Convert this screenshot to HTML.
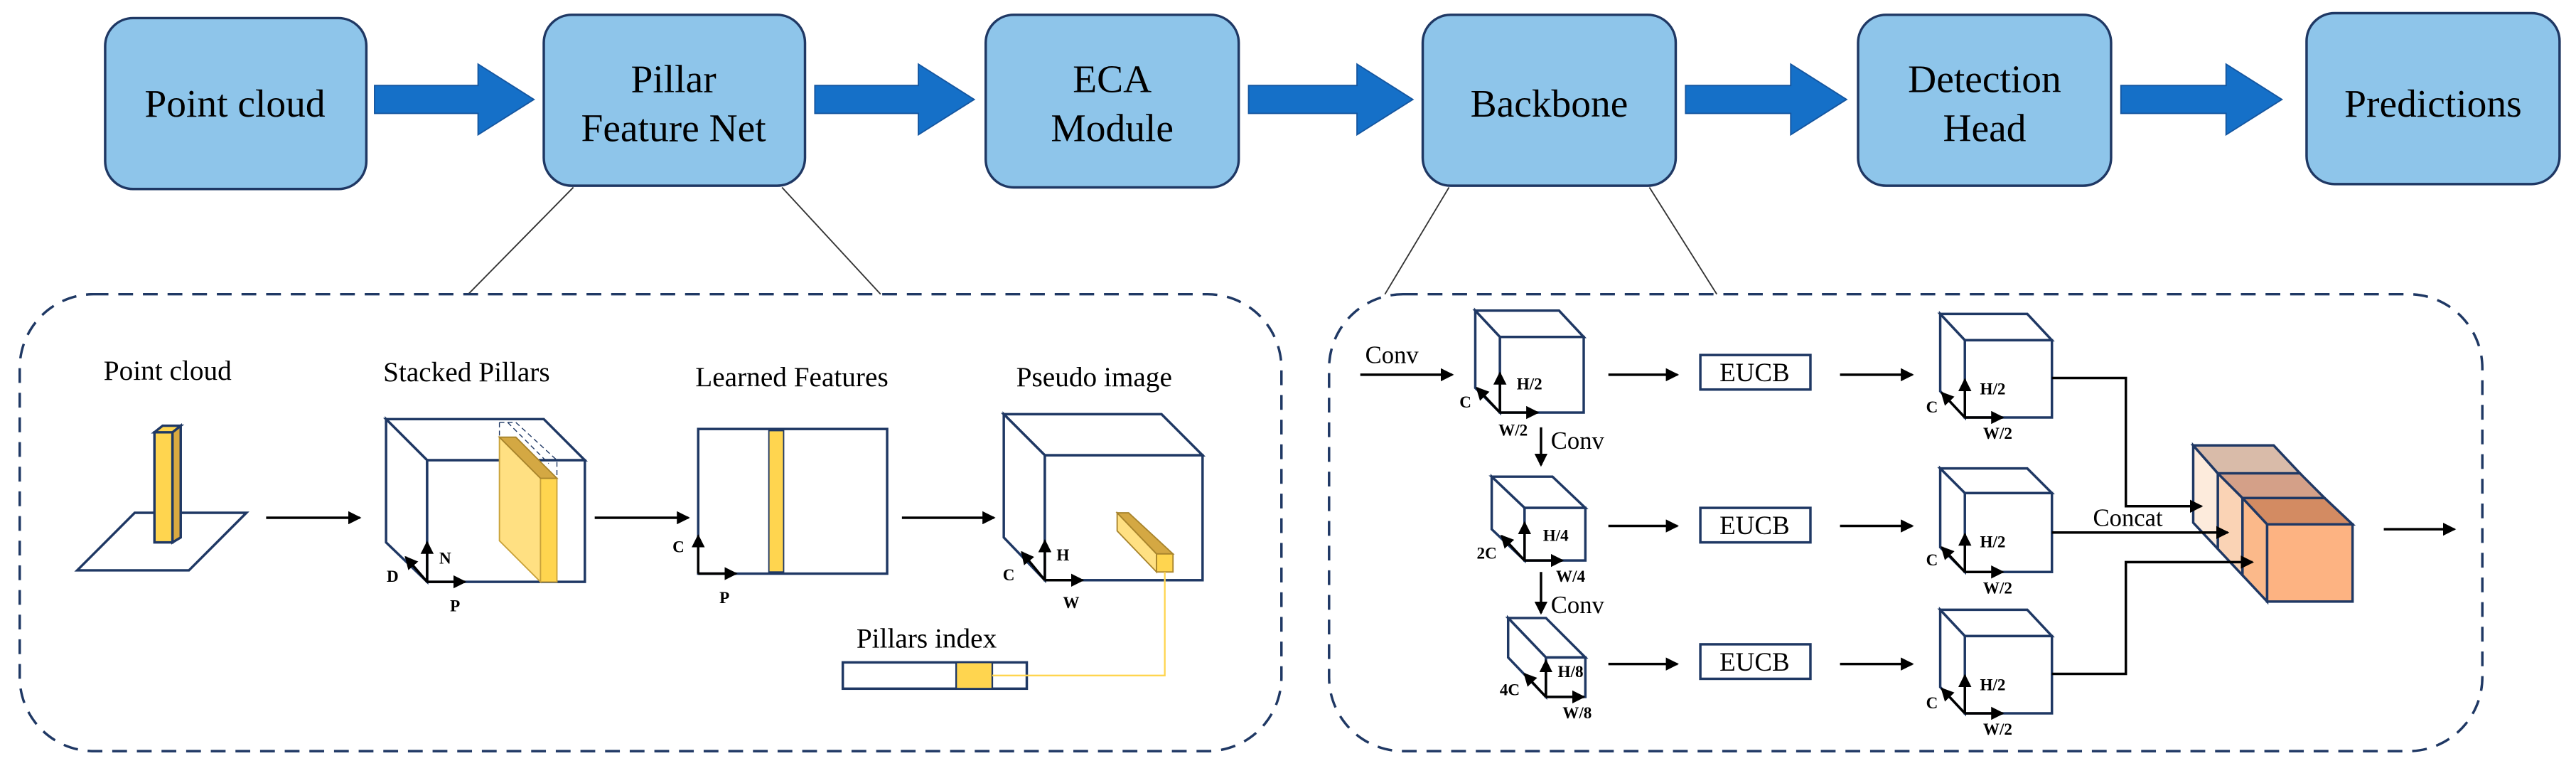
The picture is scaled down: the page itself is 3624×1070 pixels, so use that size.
<!DOCTYPE html>
<html><head><meta charset="utf-8"><style>html,body{margin:0;padding:0;background:#fff}svg{display:block}text{font-family:"Liberation Serif","DejaVu Serif","Times New Roman",serif !important}</style></head><body>
<svg width="3624" height="1070" viewBox="0 0 1568 463" preserveAspectRatio="none" xmlns="http://www.w3.org/2000/svg" style="font-family:'Liberation Serif','DejaVu Serif',serif">
<defs>
<marker id="ah" markerWidth="8" markerHeight="8" refX="7" refY="4" orient="auto" markerUnits="userSpaceOnUse"><path d="M0,0 L8,4 L0,8 Z" fill="#000"/></marker>
</defs>
<g stroke="#1F3864" stroke-width="1.5" fill="#8EC5EA">
<rect x="64" y="11" width="159" height="104" rx="17"/>
<rect x="331" y="9" width="159" height="104" rx="17"/>
<rect x="600" y="9" width="154" height="105" rx="17"/>
<rect x="866" y="9" width="154" height="104" rx="17"/>
<rect x="1131" y="9" width="154" height="104" rx="17"/>
<rect x="1404" y="8" width="154" height="104" rx="17"/>
</g>
<g fill="#1570C8" stroke="#1556A0" stroke-width="0.8">
<path d="M228,52 H291 V39 L325,60.5 L291,82 V69 H228 Z"/>
<path d="M496,52 H559 V39 L593,60.5 L559,82 V69 H496 Z"/>
<path d="M760,52 H826 V39 L860,60.5 L826,82 V69 H760 Z"/>
<path d="M1026,52 H1090 V39 L1124,60.5 L1090,82 V69 H1026 Z"/>
<path d="M1291,52 H1355 V39 L1389,60.5 L1355,82 V69 H1291 Z"/>
</g>
<g font-size="24" text-anchor="middle" fill="#000" style="font-family:'Liberation Serif',serif">
<text x="143" y="71">Point cloud</text>
<text x="410" y="56">Pillar</text><text x="410" y="86">Feature Net</text>
<text x="677" y="56">ECA</text><text x="677" y="86">Module</text>
<text x="943" y="71">Backbone</text>
<text x="1208" y="56">Detection</text><text x="1208" y="86">Head</text>
<text x="1481" y="71">Predictions</text>
</g>
<g stroke="#333" stroke-width="0.8">
<line x1="349" y1="114" x2="285" y2="179"/><line x1="476" y1="114" x2="536" y2="179"/>
<line x1="882" y1="114" x2="843" y2="179"/><line x1="1004" y1="114" x2="1045" y2="179"/>
</g>
<g fill="none" stroke="#1F3864" stroke-width="1.5" stroke-dasharray="9,6">
<rect x="12" y="179" width="768" height="278" rx="45"/>
<rect x="809" y="179" width="702" height="278" rx="45"/>
</g>
<g font-size="17" text-anchor="middle" style="font-family:'Liberation Serif',serif">
<text x="102" y="231">Point cloud</text>
<text x="284" y="232">Stacked Pillars</text>
<text x="482" y="235">Learned Features</text>
<text x="666" y="235">Pseudo image</text>
<text x="564" y="394">Pillars index</text>
</g>
<g stroke="#1F3864" stroke-width="1.5">
<path d="M47,347 L115,347 L150,312 L82,312 Z" fill="#fff"/>
<rect x="94" y="263" width="11" height="67" fill="#FFD54F"/>
<path d="M105,263 L110,259 L110,327 L105,330 Z" fill="#D9A93F"/>
<path d="M94,263 L99,259 L110,259 L105,263 Z" fill="#FFD54F"/>
</g>
<g stroke="#000" stroke-width="1.5" marker-end="url(#ah)">
<line x1="162" y1="315" x2="219" y2="315"/>
<line x1="362" y1="315" x2="419" y2="315"/>
<line x1="549" y1="315" x2="605" y2="315"/>
</g>
<g stroke="#1F3864" stroke-width="1.5" fill="#fff">
<path d="M235,255 L331,255 L356,280 L260,280 Z"/>
<path d="M235,255 L260,280 L260,354 L235,330 Z"/>
<rect x="260" y="280" width="96" height="74"/>
</g>
<path d="M304,266 L329,291 L329,354 L304,329 Z" fill="#FFE082" stroke="#C9A23A" stroke-width="0.8"/>
<rect x="329" y="291" width="10" height="63" fill="#FFD54F" stroke="#C9A23A" stroke-width="0.8"/>
<path d="M304,266 L314,266 L339,291 L329,291 Z" fill="#D4A843" stroke="#A8842C" stroke-width="0.8"/>
<g stroke="#1F3864" stroke-width="0.6" stroke-dasharray="3,2" fill="none"><path d="M304,257 L314,257 L339,280 L339,291"/><path d="M304,257 L304,266"/><path d="M309,257 L334,282"/></g>
<rect x="425" y="261" width="115" height="88" fill="#fff" stroke="#1F3864" stroke-width="1.5"/>
<rect x="468" y="262" width="9" height="86" fill="#FFD54F" stroke="#1F3864" stroke-width="0.8"/>
<g stroke="#1F3864" stroke-width="1.5" fill="#fff">
<path d="M611,252 L707,252 L732,277 L636,277 Z"/>
<path d="M611,252 L636,277 L636,353 L611,327 Z"/>
<rect x="636" y="277" width="96" height="76"/>
</g>
<g stroke="#A8842C" stroke-width="0.8">
<path d="M680,312 L704,337 L704,348 L680,323 Z" fill="#FFE082"/>
<path d="M680,312 L687,312 L714,337 L704,337 Z" fill="#D4A843"/>
<rect x="704" y="337" width="10" height="11" fill="#FFD54F"/>
</g>
<rect x="513" y="403" width="112" height="16" fill="#fff" stroke="#1F3864" stroke-width="1.5"/>
<rect x="582" y="403" width="22" height="16" fill="#FFD54F" stroke="#1F3864" stroke-width="1"/>
<polyline points="604,411 709,411 709,348" fill="none" stroke="#FFD54F" stroke-width="1"/>
<g stroke="#000" stroke-width="1.5" marker-end="url(#ah)">
<line x1="260" y1="354" x2="260" y2="330"/><line x1="260" y1="354" x2="283" y2="354"/><line x1="260" y1="354" x2="247" y2="339"/>
<line x1="425" y1="349" x2="425" y2="326"/><line x1="425" y1="349" x2="448" y2="349"/>
<line x1="636" y1="353" x2="636" y2="329"/><line x1="636" y1="353" x2="659" y2="353"/><line x1="636" y1="353" x2="622" y2="336"/>
</g>
<g font-size="10" font-weight="bold" text-anchor="middle">
<text x="271" y="343">N</text><text x="277" y="372">P</text><text x="239" y="354">D</text>
<text x="413" y="336">C</text><text x="441" y="367">P</text>
<text x="647" y="341">H</text><text x="652" y="370">W</text><text x="614" y="353">C</text>
</g>
<g stroke="#1F3864" stroke-width="1.5" fill="#fff">
<path d="M898,189 L949,189 L964,205 L913,205 Z"/><path d="M898,189 L913,205 L913,251 L898,236 Z"/><rect x="913" y="205" width="51" height="46"/>
<path d="M908,290 L945,290 L965,309 L928,309 Z"/><path d="M908,290 L928,309 L928,341 L908,322 Z"/><rect x="928" y="309" width="37" height="32"/>
<path d="M918,376 L941,376 L965,400 L941,400 Z"/><path d="M918,376 L941,400 L941,424 L918,400 Z"/><rect x="941" y="400" width="24" height="24"/>
<path d="M1181,191 L1234,191 L1249,207 L1196,207 Z"/><path d="M1181,191 L1196,207 L1196,254 L1181,238 Z"/><rect x="1196" y="207" width="53" height="47"/>
<path d="M1181,285 L1234,285 L1249,300 L1196,300 Z"/><path d="M1181,285 L1196,300 L1196,348 L1181,333 Z"/><rect x="1196" y="300" width="53" height="48"/>
<path d="M1181,371 L1234,371 L1249,387 L1196,387 Z"/><path d="M1181,371 L1196,387 L1196,434 L1181,418 Z"/><rect x="1196" y="387" width="53" height="47"/>
</g>
<g stroke="#1F3864" stroke-width="1.5" fill="#fff">
<rect x="1035" y="216" width="67" height="21"/><rect x="1035" y="309" width="67" height="21"/><rect x="1035" y="392" width="67" height="21"/>
</g>
<g font-size="16" text-anchor="middle">
<text x="1068" y="232">EUCB</text><text x="1068" y="325">EUCB</text><text x="1068" y="408">EUCB</text>
</g>
<g font-size="15">
<text x="831" y="221">Conv</text><text x="944" y="273">Conv</text><text x="944" y="373">Conv</text><text x="1274" y="320">Concat</text>
</g>
<g stroke="#1F3864" stroke-width="1.5">
<path d="M1335,271 L1350,288 L1350,334 L1335,318 Z" fill="#FDEBDC"/>
<path d="M1350,288 L1365,303 L1365,350 L1350,334 Z" fill="#FAD3B5"/>
<path d="M1365,303 L1380,319 L1380,366 L1365,350 Z" fill="#FBB98A"/>
<path d="M1335,271 L1384,271 L1400,288 L1350,288 Z" fill="#D9BBA9"/>
<path d="M1350,288 L1400,288 L1415,303 L1365,303 Z" fill="#D4A088"/>
<path d="M1365,303 L1415,303 L1432,319 L1380,319 Z" fill="#D38B62"/>
<rect x="1380" y="319" width="52" height="47" fill="#FDB382"/>
</g>
<g stroke="#000" stroke-width="1.5" fill="none" marker-end="url(#ah)">
<line x1="828" y1="228" x2="884" y2="228"/>
<line x1="938" y1="260" x2="938" y2="283"/><line x1="938" y1="348" x2="938" y2="373"/>
<line x1="979" y1="228" x2="1021" y2="228"/><line x1="979" y1="320" x2="1021" y2="320"/><line x1="979" y1="404" x2="1021" y2="404"/>
<line x1="1120" y1="228" x2="1164" y2="228"/><line x1="1120" y1="320" x2="1164" y2="320"/><line x1="1120" y1="404" x2="1164" y2="404"/>
<polyline points="1249,230 1294,230 1294,308 1340,308"/>
<polyline points="1249,324 1356,324"/>
<polyline points="1249,410 1294,410 1294,342 1371,342"/>
<line x1="1451" y1="322" x2="1494" y2="322"/>
<line x1="913" y1="251" x2="913" y2="227"/><line x1="913" y1="251" x2="936" y2="251"/><line x1="913" y1="251" x2="899" y2="236"/>
<line x1="928" y1="341" x2="928" y2="318"/><line x1="928" y1="341" x2="951" y2="341"/><line x1="928" y1="341" x2="914" y2="326"/>
<line x1="941" y1="424" x2="941" y2="402"/><line x1="941" y1="424" x2="964" y2="424"/><line x1="941" y1="424" x2="928" y2="410"/>
<line x1="1196" y1="254" x2="1196" y2="231"/><line x1="1196" y1="254" x2="1219" y2="254"/><line x1="1196" y1="254" x2="1182" y2="239"/>
<line x1="1196" y1="348" x2="1196" y2="325"/><line x1="1196" y1="348" x2="1219" y2="348"/><line x1="1196" y1="348" x2="1182" y2="333"/>
<line x1="1196" y1="434" x2="1196" y2="411"/><line x1="1196" y1="434" x2="1219" y2="434"/><line x1="1196" y1="434" x2="1182" y2="419"/>
</g>
<g font-size="10" font-weight="bold" text-anchor="middle">
<text x="931" y="237">H/2</text><text x="921" y="265">W/2</text><text x="892" y="248">C</text>
<text x="947" y="329">H/4</text><text x="956" y="354">W/4</text><text x="905" y="340">2C</text>
<text x="956" y="412">H/8</text><text x="960" y="437">W/8</text><text x="919" y="423">4C</text>
<text x="1213" y="240">H/2</text><text x="1216" y="267">W/2</text><text x="1176" y="251">C</text>
<text x="1213" y="333">H/2</text><text x="1216" y="361">W/2</text><text x="1176" y="344">C</text>
<text x="1213" y="420">H/2</text><text x="1216" y="447">W/2</text><text x="1176" y="431">C</text>
</g>
</svg>
</body></html>
